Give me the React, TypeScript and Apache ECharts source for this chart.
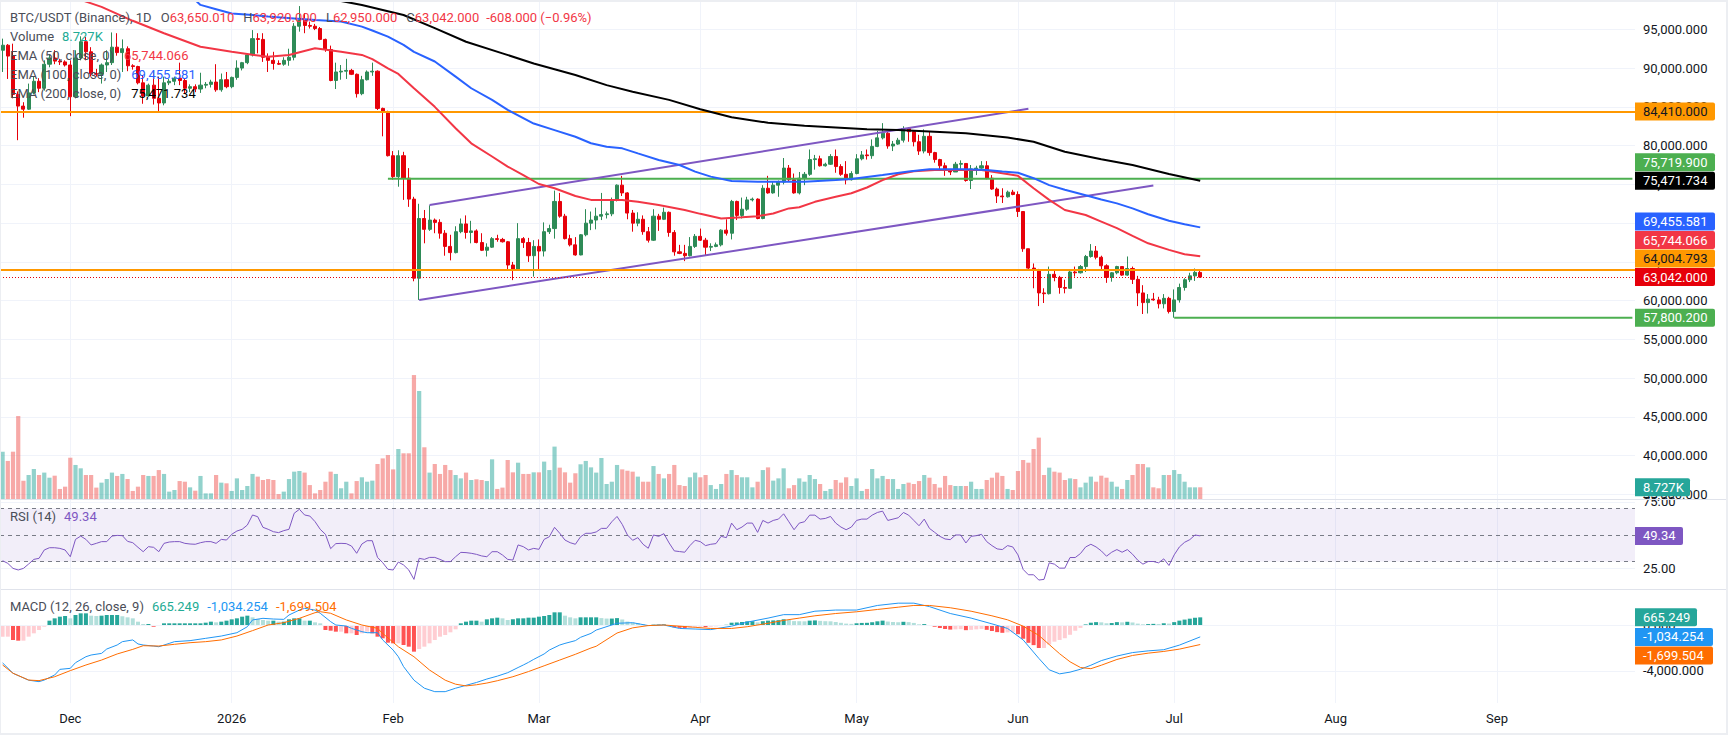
import React, { useEffect, useRef } from 'react';
import * as echarts from 'echarts';

const FONT = 'Roboto, "Noto Sans", sans-serif';
const UP = '#2e8b57';
const DOWN = '#e6000a';
const TEXT = '#131722';
const LEGEND = '#4a4d57';
const GRIDLINE = '#f0f3fa';

const START = Date.UTC(2025, 10, 18);
const DAY_MS = 86400000;
const N_CATS = 314;
const MONTH_ABBR = ['Jan', 'Feb', 'Mar', 'Apr', 'May', 'Jun', 'Jul', 'Aug', 'Sep', 'Oct', 'Nov', 'Dec'];
const dates: string[] = Array.from({ length: N_CATS }, (_, i) => new Date(START + i * DAY_MS).toISOString().slice(0, 10));

// Daily candles [open, high, low, close]
const nov2025 = [
  [92300, 93800, 89500, 92950], [92950, 93100, 88600, 91550], [91550, 93150, 86100, 86600], [86600, 87000, 80700, 85100],
  [85100, 85600, 83600, 84700], [84700, 88000, 84600, 86800], [86800, 88900, 86600, 88300], [88300, 88700, 86900, 87400],
  [87400, 91000, 87100, 90500], [90500, 91700, 90100, 91300], [91300, 92300, 90500, 90900], [90900, 91200, 90400, 90800],
  [90800, 91000, 90200, 90400],
];
const dec2025 = [
  [90400, 91000, 83800, 86300], [86300, 92300, 86100, 91300], [91300, 94100, 91000, 93400], [93400, 94000, 91000, 92100],
  [92100, 92700, 88900, 89300], [89300, 89900, 88900, 89200], [89200, 90600, 88000, 90400], [90400, 92300, 89500, 90700],
  [90700, 94600, 90400, 92700], [92700, 94500, 91600, 92000], [92000, 93700, 89500, 92500], [92500, 92800, 89600, 90300],
  [90300, 90500, 89800, 90200], [90200, 90300, 87900, 88100], [88100, 89100, 85400, 86400], [86400, 88000, 86300, 87800],
  [87800, 89500, 85300, 86100], [86100, 88900, 84400, 85500], [85500, 88900, 85200, 88100], [88100, 88600, 87800, 88300],
  [88300, 88900, 87800, 88700], [88700, 90700, 87800, 88400], [88400, 88700, 86700, 87400], [87400, 87900, 86900, 87600],
  [87600, 87900, 86900, 87300], [87300, 89400, 86800, 87800], [87800, 88200, 87400, 87900], [87900, 88500, 87500, 88200],
  [88200, 90500, 86950, 87200], [87200, 89300, 86950, 88500], [88500, 89500, 87400, 87600],
];
const jan2026 = [
  [87600, 88900, 87400, 88800], [88800, 91000, 88500, 90000], [90000, 90800, 89700, 90700], [90700, 91900, 90500, 91700],
  [91700, 94900, 91500, 93800], [93800, 94500, 91900, 93700], [93700, 94500, 90800, 91400], [91400, 91900, 89500, 91000],
  [91000, 92100, 89800, 90600], [90600, 91000, 90400, 90500], [90500, 91400, 90300, 91000], [91000, 92500, 90300, 91400],
  [91400, 95800, 91000, 95400], [95400, 98000, 94700, 96200], [96200, 97100, 94500, 95500], [95500, 96000, 95100, 95400],
  [95400, 95700, 94900, 95100], [95100, 95300, 93600, 93700], [93700, 93800, 92100, 92400], [92400, 92900, 88300, 88400],
  [88400, 90700, 87300, 89500], [89500, 90400, 88500, 89600], [89600, 91200, 88600, 89700], [89700, 89900, 89100, 89200],
  [89200, 89300, 86200, 86700], [86700, 89000, 86500, 88500], [88500, 89700, 88400, 89500], [89500, 90700, 89000, 89600],
  [89600, 89700, 84600, 84800], [84800, 84900, 81200, 84400], [84400, 84500, 78600, 78700],
];
const feb2026 = [
  [78700, 79300, 75600, 76000], [76000, 79400, 74700, 78700], [78700, 79200, 73000, 75800], [75800, 77100, 72100, 73100],
  [73100, 73400, 62500, 62900], [62900, 72500, 60100, 70600], [70600, 71700, 67400, 69200], [69200, 72300, 69000, 70400],
  [70400, 70600, 68700, 70100], [70100, 70500, 68000, 68700], [68700, 69100, 65800, 67000], [67000, 68500, 65200, 66200],
  [66200, 69600, 66100, 68900], [68900, 70600, 68700, 69900], [69900, 71000, 68000, 68800], [68800, 70300, 67400, 69000],
  [69000, 69200, 67400, 67500], [67500, 68700, 66400, 66500], [66500, 67400, 65700, 66900], [66900, 68200, 66800, 68000],
  [68000, 68500, 67600, 67900], [67900, 68100, 67500, 67600], [67600, 67700, 64000, 64600], [64600, 65000, 62650, 64000],
  [64000, 70000, 63900, 68000], [68000, 68200, 66800, 67500], [67500, 68100, 65000, 65800], [65800, 67800, 63100, 67000],
];
const mar2026 = [
  [67000, 67900, 64000, 66400], [66400, 70100, 65700, 68900], [68900, 69800, 68600, 69300], [69300, 74200, 68000, 72800],
  [72800, 73900, 70700, 70900], [70900, 71200, 67900, 68000], [68000, 68500, 67000, 67200], [67200, 68200, 65800, 65900],
  [65900, 68600, 65850, 68500], [68500, 71800, 68300, 70000], [70000, 71500, 69100, 70400], [70400, 72000, 69200, 70900],
  [70900, 73900, 70400, 71100], [71100, 71500, 70600, 71200], [71200, 73300, 70900, 73000], [73000, 75000, 72800, 74900],
  [74900, 76100, 73500, 73900], [73900, 74000, 70500, 71300], [71300, 71700, 68900, 70000], [70000, 71400, 69600, 70500],
  [70500, 71000, 68500, 68900], [68900, 69500, 67500, 67800], [67800, 71800, 67700, 70900], [70900, 71200, 69000, 70500],
  [70500, 72000, 70400, 71400], [71400, 71500, 68250, 68800], [68800, 69100, 65800, 66300], [66300, 67200, 66000, 66100],
  [66100, 67200, 65100, 65800], [65800, 68200, 65700, 67000], [67000, 68600, 66800, 68300],
];
const apr2026 = [
  [68300, 69300, 67700, 67800], [67800, 68100, 65800, 66900], [66900, 67400, 66400, 67000], [67000, 67500, 66900, 67200],
  [67200, 69200, 67000, 69100], [69100, 70500, 68400, 68700], [68700, 73000, 67900, 72800], [72800, 72900, 70400, 71000],
  [71000, 73300, 70600, 71800], [71800, 73400, 71600, 73000], [73000, 73300, 72800, 73100], [73100, 73200, 70500, 70600],
  [70600, 74900, 70500, 74500], [74500, 76100, 73800, 73900], [73900, 75300, 73800, 74900], [74900, 75500, 73400, 75300],
  [75300, 78400, 75000, 77100], [77100, 77500, 75400, 75600], [75600, 76400, 73800, 73900], [73900, 76600, 73700, 75800],
  [75800, 76600, 74900, 76300], [76300, 79500, 76100, 78200], [78200, 78800, 76900, 78300], [78300, 78700, 77300, 77400],
  [77400, 77800, 77300, 77600], [77600, 78900, 77500, 78600], [78600, 79500, 76500, 77300], [77300, 77600, 76100, 76300],
  [76300, 78000, 75000, 75600], [75600, 76700, 75500, 76400],
];
const may2026 = [
  [76400, 78900, 76300, 78300], [78300, 79300, 78100, 78800], [78800, 79500, 78200, 78700], [78700, 80800, 78300, 79900],
  [79900, 81900, 79800, 81000], [81000, 82900, 80800, 81600], [81600, 81800, 79600, 79950], [79950, 80600, 79300, 80200],
  [80200, 81000, 80100, 80700], [80700, 82500, 80400, 82200], [82200, 82400, 80500, 81800], [81800, 82000, 79900, 80500],
  [80500, 81400, 78800, 79300], [79300, 82100, 79000, 81200], [81200, 81800, 78700, 79100], [79100, 79200, 77800, 78200],
  [78200, 78300, 76900, 77400], [77400, 77800, 76100, 76850], [76850, 77000, 76200, 76600], [76600, 77900, 76600, 77600],
  [77600, 78100, 77000, 77700], [77700, 77700, 75350, 75500], [75500, 77500, 74400, 77000], [77000, 77400, 76200, 77100],
  [77100, 78000, 77000, 77400], [77400, 78000, 75650, 75800], [75800, 76200, 74300, 74400], [74400, 74600, 72600, 73500],
  [73500, 74500, 72600, 73400], [73400, 74200, 73300, 74000], [74000, 74300, 73600, 73700],
];
const jun2026 = [
  [73700, 74100, 70800, 71500], [71500, 71500, 66300, 66700], [66700, 66700, 64000, 64200], [64200, 64800, 61600, 64000],
  [64000, 64100, 59300, 61000], [61000, 61600, 59700, 60900], [60900, 64400, 60800, 63400], [63400, 64000, 62500, 63000],
  [63000, 63200, 60900, 61700], [61700, 62700, 60950, 61600], [61600, 63950, 61550, 63700], [63700, 64400, 63100, 63600],
  [63600, 64600, 63500, 64400], [64400, 65900, 63700, 65700], [65700, 67300, 65550, 66400], [66400, 67050, 65330, 65600],
  [65600, 65800, 64040, 64500], [64500, 64700, 62300, 63000], [63000, 63700, 62450, 63600], [63600, 64500, 63400, 64400],
  [64400, 64400, 63200, 63300], [63300, 65700, 63200, 64150], [64150, 64400, 62150, 62750], [62750, 63200, 59300, 61000],
  [61000, 62000, 58280, 59750], [59750, 60850, 58350, 60200], [60200, 61000, 60000, 60100], [60100, 60500, 59000, 59600],
  [59600, 60850, 59000, 60300], [60300, 60500, 58350, 58600],
];
const jul2026 = [
  [58600, 61450, 57800.2, 60100], [60100, 62200, 59750, 61700], [61700, 62900, 61300, 62700], [62700, 63600, 62400, 63200],
  [63200, 64150, 62550, 63650], [63650.01, 63920, 62950, 63042],
];
const candles = [...nov2025, ...dec2025, ...jan2026, ...feb2026, ...mar2026, ...apr2026, ...may2026, ...jun2026, ...jul2026];

// Volume in thousands of BTC
const volumeK = [
  35.3, 28.4, 35.3, 61.9, 13.7, 17.9, 22.4, 17.9, 19.7, 15.9, 17.4, 7.5, 9.2,
  30.8, 25.4, 22.9, 17.9, 17.9, 8.5, 12.2, 14.9, 19.7, 17.2, 18.7, 14.9, 6.0, 9.2, 17.9, 17.2, 17.2, 21.6, 18.7, 5.5, 6.7, 13.4, 12.9, 8.7, 6.2, 17.2, 4.2, 4.2, 17.9, 12.2, 11.7,
  6.0, 15.4, 6.7, 9.7, 18.7, 16.7, 14.2, 14.9, 14.2, 3.7, 5.5, 14.9, 20.4, 20.9, 19.7, 10.4, 4.2, 6.7, 12.9, 20.4, 18.7, 8.0, 12.9, 4.2, 13.4, 16.2, 12.9, 13.7, 26.1, 30.3, 32.8,
  22.1, 37.3, 34.1, 34.1, 92.5, 80.6, 38.6, 19.7, 26.1, 18.7, 25.4, 21.6, 17.9, 15.4, 19.7, 14.2, 14.7, 14.2, 13.4, 29.6, 7.5, 8.5, 29.1, 19.9, 27.1, 18.7, 18.7, 19.9,
  19.9, 27.9, 21.6, 39.1, 23.4, 19.9, 12.2, 19.2, 25.9, 28.4, 23.6, 19.7, 30.6, 11.2, 12.9, 25.4, 22.1, 21.1, 20.4, 16.7, 12.9, 12.9, 24.6, 18.7, 15.4, 18.7, 25.4, 10.4, 9.7, 16.2, 19.7,
  16.2, 17.9, 10.4, 7.5, 11.2, 18.7, 21.6, 17.9, 16.2, 16.2, 8.7, 12.9, 21.6, 23.6, 13.7, 15.4, 22.9, 8.0, 10.4, 15.4, 12.9, 17.9, 14.9, 11.2, 6.0, 7.5, 14.2, 12.2, 16.2, 9.7,
  15.4, 6.0, 7.5, 22.4, 15.4, 17.2, 14.9, 14.9, 7.5, 11.2, 12.2, 11.2, 13.4, 17.9, 15.9, 11.2, 8.5, 17.2, 10.4, 9.7, 9.7, 9.7, 12.9, 7.5, 7.5, 14.2, 15.9, 19.7, 17.2, 7.5, 6.7,
  20.9, 29.1, 27.1, 37.3, 45.8, 17.9, 23.4, 20.4, 19.7, 14.2, 15.4, 14.9, 8.7, 12.2, 16.7, 12.9, 17.4, 15.9, 12.9, 9.2, 7.5, 14.2, 17.9, 26.1, 26.1, 23.6, 8.7, 8.0, 17.9, 17.9,
  21.6, 18.7, 12.9, 8.7, 8.7, 8.727,
];

const rsi14 = [
  30.6, 28.6, 24.8, 23.6, 24.8, 28.1, 31.6, 32.4, 38.7, 40.4, 40.4, 39.9, 38.7, 33.6, 46.7, 49.2, 46.7, 42.5, 43.7, 45,
  45, 49.2, 49.7, 49.5, 45.2, 44.2, 40.7, 37.4, 41.2, 40.7, 37.4, 43.7, 44.7, 45, 45, 43.7, 43.2, 43, 44.2, 45,
  45, 43.7, 46.7, 46.2, 50.5, 53, 54.3, 57.5, 65.1, 63.8, 55.8, 54.3, 52.5, 51.8, 53.3, 54.3, 66.4, 69.4, 65.1, 64.3,
  60.1, 54.3, 50.5, 39.7, 43.5, 43.7, 43.5, 41.7, 36.2, 43.2, 45.7, 45.7, 33.1, 29.1, 24.1, 23.6, 29.6, 27.4, 23.6, 16.5,
  32.4, 31.6, 33.1, 33.1, 31.6, 29.9, 29.9, 33.6, 36.9, 36.7, 36.2, 35.4, 34.2, 33.6, 37.4, 37.4, 34.9, 31.6, 31.1, 42.5,
  41.2, 38.7, 39.9, 39.2, 46.7, 48.7, 55.8, 51.3, 46.2, 44.2, 43, 48.7, 51.3, 51.3, 52.3,
  55, 55, 60, 64, 58, 50, 46, 48, 43, 40, 50, 49, 51, 44, 38, 37.5, 37, 42, 46,
  45, 42, 43, 43.5, 49, 48, 59, 54, 56, 59, 59, 52, 61, 59, 61, 62, 66, 60, 54, 59, 60, 65, 65, 62, 62.5, 64, 59, 56, 54, 56,
  61, 62, 62, 65, 67, 68, 61, 62, 63, 67, 65, 61, 57, 62, 55, 52, 49, 47, 46.5, 50, 50, 44, 49, 49.5, 50.5, 45, 42, 39.5, 39, 42, 41,
  35, 24, 20, 20, 16, 16.5, 29, 28, 25, 25, 33, 33, 36, 41, 43, 41, 38, 34, 37, 39, 37, 39, 35.5, 31, 28, 30, 30, 29, 32, 27,
  35, 41, 44.5, 46.5, 50, 49.34,
];

const macdHist = [
  -1015, -1015, -1305, -1363, -1363, -1015, -725, -435, -145, 377, 580, 725, 783, 580, 870, 1015, 1015, 812, 783, 812,
  870, 870, 870, 760, 667, 580, 290, 87, 87, -150, -87, 145, 145, 145, 145, 145, 145, 145, 145, 203,
  290, 232, 290, 377, 493, 580, 725, 812, 667, 522, 435, 377, 377, 290, 290, 493, 580, 580, 377, 377,
  232, 145, -435, -493, -580, -580, -725, -725, -870, -725, -580, -725, -1015, -1160, -1537, -1595, -1595, -1740, -1885, -2320,
  -2088, -1885, -1595, -1305, -1015, -870, -638, -377, 145, 290, 377, 377, 290, 493, 580, 638, 580, 435, 493, 580,
  580, 638, 638, 725, 783, 870, 1102, 1102, 812, 667, 580, 667, 667, 667, 667,
  600, 560, 560, 600, 480, 300, 200, 160, 60, -40, 30, 40, 50, -60, -200, -250, -280, -230, -150,
  -150, -180, -150, -120, 0, 20, 200, 220, 260, 320, 330, 230, 330, 380, 400, 420, 500, 440, 340, 330, 320, 380, 400, 360, 330, 320, 260, 190, 120, 100,
  150, 180, 190, 240, 320, 380, 300, 260, 240, 280, 250, 180, 60, 80, -40, -150, -260, -350, -400, -380, -360, -450, -420, -380, -340, -420, -520, -620, -680, -640, -640,
  -800, -1200, -1550, -1750, -2000, -2000, -1700, -1450, -1300, -1150, -850, -500, -250, 50, 200, 250, 230, 150, 170, 250, 230, 280, 220, 120, 60, 80, 100, 90, 150, 120,
  250, 380, 470, 550, 630, 665.249,
];

const macdLinePts = [
  [0, -3300], [2, -4200], [5, -4800], [7, -4930], [8, -4790], [10, -4350], [11, -3860], [13, -3770], [14, -3280], [16, -2760],
  [17, -2610], [19, -2470], [20, -2090], [22, -1740], [23, -1450], [25, -1300], [26, -1650], [27, -1740], [29, -1830], [30, -1890],
  [32, -1600], [33, -1450], [36, -1360], [39, -1160], [42, -960], [45, -670], [47, -150], [48, 440], [50, 580], [52, 520],
  [54, 490], [55, 870], [57, 1300], [58, 1450], [60, 1300], [61, 1020], [63, 290], [64, 0], [66, -90], [67, -290],
  [69, -580], [70, -670], [72, -670], [73, -1300], [75, -2180], [76, -2760], [77, -3620], [79, -4800], [81, -5500], [83, -5800],
  [85, -5800], [87, -5500], [89, -5250], [91, -5000], [93, -4700], [95, -4450], [97, -4150], [99, -3700], [100, -3480], [101, -3250],
  [102, -2990], [104, -2520], [105, -2180], [107, -1740], [108, -1600], [110, -1360], [111, -1070], [113, -730], [114, -440], [118, 150],
  [121, 200], [124, -50], [127, 0], [130, -300], [133, -350], [136, -400], [140, -100], [143, 250], [147, 600], [150, 900],
  [153, 900], [156, 1200], [160, 1300], [164, 1300], [168, 1700], [172, 1900], [175, 1900], [178, 1600], [182, 1000], [186, 600],
  [190, 100], [193, -300], [196, -1300], [199, -2900], [201, -3900], [203, -4250], [205, -4100], [207, -3850], [209, -3500], [211, -3100],
  [214, -2700], [217, -2400], [220, -2250], [223, -2150], [226, -1750], [230, -1034.254],
];
const signalPts = [
  [0, -3480], [2, -4200], [5, -4790], [7, -4840], [10, -4500], [13, -3970], [16, -3480], [19, -3050], [22, -2520], [25, -2120],
  [27, -1800], [30, -1830], [33, -1680], [36, -1540], [39, -1450], [42, -1300], [45, -960], [48, -490], [51, 0], [54, 200],
  [57, 580], [60, 1070], [61, 1160], [63, 1020], [66, 440], [69, 0], [72, -290], [73, -730], [76, -1890], [79, -2760],
  [82, -3920], [85, -4800], [87, -5150], [89, -5300], [91, -5200], [93, -5050], [95, -4850], [98, -4500], [101, -4050], [104, -3550],
  [107, -3050], [110, -2550], [113, -2000], [114, -1850], [118, -700], [121, -250], [124, -50], [127, 0], [130, -100], [133, -200],
  [136, -300], [140, -300], [143, -150], [147, 150], [150, 400], [153, 600], [156, 800], [160, 1000], [164, 1150], [168, 1350],
  [172, 1550], [175, 1700], [178, 1700], [182, 1500], [186, 1200], [190, 800], [193, 450], [196, -100], [199, -900], [201, -1700],
  [203, -2500], [205, -3200], [207, -3700], [209, -3800], [211, -3500], [214, -3000], [217, -2650], [220, -2450], [223, -2300], [226, -2100],
  [230, -1699.504],
];

const ema50Pts = [
  [8, 100900], [15, 98800], [19, 97900], [25, 96100], [31, 94500], [38, 92750], [44, 92100], [51, 91450], [55, 91700], [60, 92550],
  [65, 92100], [69, 91700], [71, 91150], [74, 89950], [76, 89250], [79, 87400], [83, 85000], [87, 82250], [90, 80300], [94, 78600],
  [97, 77300], [100, 76200], [103, 75050], [106, 74500], [110, 73500], [113, 73000], [119, 73000], [122, 72750], [126, 72350], [131, 71700],
  [134, 71200], [138, 70600], [142, 70750], [145, 70900], [148, 71250], [151, 71900], [153, 72050], [156, 72750], [160, 73400], [163, 73850],
  [166, 74600], [169, 75550], [172, 76300], [175, 76700], [179, 76850], [185, 76850], [188, 76850], [192, 76450], [195, 76100], [198, 74500],
  [201, 73000], [204, 71700], [208, 71050], [211, 70200], [214, 69350], [217, 68350], [220, 67400], [224, 66550], [227, 66000], [230, 65744.066],
];
const ema100Pts = [
  [30, 101600], [37, 98780], [38, 98150], [41, 97600], [44, 97050], [48, 96850], [51, 96650], [56, 96400], [60, 96200], [65, 96000],
  [69, 95350], [71, 94850], [74, 94050], [77, 93000], [79, 92100], [83, 90850], [87, 88900], [90, 87400], [94, 85900], [97, 84600],
  [102, 82850], [106, 82000], [110, 81150], [113, 80300], [116, 79850], [119, 79650], [122, 79000], [126, 78150], [130, 77500], [133, 76650],
  [136, 76000], [140, 75450], [145, 75350], [150, 75350], [154, 75350], [160, 75550], [163, 75700], [169, 76200], [174, 76650], [178, 76950],
  [185, 76950], [189, 76850], [192, 76650], [195, 76500], [198, 75800], [201, 74900], [204, 74300], [208, 73600], [211, 73050], [214, 72550],
  [217, 71900], [220, 71150], [224, 70300], [227, 69850], [230, 69455.581],
];
const ema200Pts = [
  [55, 99950], [64, 98780], [69, 98150], [77, 96850], [83, 95150], [89, 93400], [96, 91900], [102, 90600], [106, 89850], [110, 89100],
  [116, 87800], [121, 86950], [128, 85900], [134, 84700], [140, 83650], [147, 82950], [154, 82550], [160, 82350], [166, 82100], [172, 82000],
  [179, 81800], [185, 81600], [193, 81050], [198, 80500], [204, 79200], [211, 78250], [217, 77500], [224, 76350], [230, 75471.734],
];

const channelUpper = [[82, 72350], [197, 84750]];
const channelLower = [[80, 60100], [221, 74850]];
const resistance84410 = 84410;
const level64004 = 64004.793;
const support75719 = { from: 74, value: 75719.9 };
const support57800 = { from: 225, value: 57800.2 };

const fmt3 = (v: number) => v.toLocaleString('en-US', { minimumFractionDigits: 3, maximumFractionDigits: 3 });
const isMonthStart = (_i: number, v: string) => v.slice(8) === '01';

export default function App() {
  const ref = useRef<HTMLDivElement>(null);
  useEffect(() => {
    if (!ref.current) return;
    const chart = echarts.init(ref.current, undefined, { renderer: 'svg' });
    const last = candles[candles.length - 1];
    const prevClose = candles[candles.length - 2][3];
    const lastClose = last[3];
    const GR = 93;
    const xAxisFor = (gridIndex: number, labels: boolean) => ({
      type: 'category', gridIndex, data: dates, boundaryGap: true,
      axisLine: { show: false }, axisTick: { show: false },
      axisLabel: labels ? {
        interval: isMonthStart, color: TEXT, fontSize: 13, fontFamily: FONT, margin: 9,
        formatter: (v: string) => (v.slice(5, 7) === '01' ? v.slice(0, 4) : MONTH_ABBR[Number(v.slice(5, 7)) - 1]),
      } : { show: false },
      splitLine: { show: true, interval: isMonthStart, alignWithLabel: true, lineStyle: { color: GRIDLINE, width: 1 } },
    });
    const hidden = { axisLine: { show: false }, axisTick: { show: false }, axisLabel: { show: false }, splitLine: { show: false } };
    const mlLabel = (text: string) => ({ show: true, position: 'end', distance: 8, formatter: text, color: TEXT, fontSize: 13, fontFamily: FONT });

    const histColors = macdHist.map((v, i) => {
      const p = i > 0 ? macdHist[i - 1] : v;
      if (v >= 0) return v >= p ? '#26a69a' : '#b2dfdb';
      return v < p ? '#ff5252' : '#ffcdd2';
    });

    const option: any = {
      animation: false,
      grid: [
        { left: 0, right: GR, top: 0, height: 494.5 },
        { left: 0, right: GR, top: 299, height: 200 },
        { left: 0, right: GR, top: 500, height: 89 },
        { left: 0, right: GR, top: 589, height: 114 },
      ],
      xAxis: [xAxisFor(0, false), xAxisFor(1, false), xAxisFor(2, false), xAxisFor(3, true)],
      yAxis: [
        {
          type: 'value', gridIndex: 0, position: 'right', min: 35000, max: 98783, interval: 5000,
          axisLine: { show: false }, axisTick: { show: false },
          axisLabel: { color: TEXT, fontSize: 13, fontFamily: FONT, margin: 8, showMaxLabel: false, formatter: (v: number) => fmt3(v) },
          splitLine: { lineStyle: { color: GRIDLINE } },
        },
        { type: 'value', gridIndex: 1, min: 0, max: 149.25, ...hidden },
        { type: 'value', gridIndex: 2, min: 9.245, max: 76.42, ...hidden },
        { type: 'value', gridIndex: 3, min: -6786, max: 3132, ...hidden },
      ],
      series: [
        {
          type: 'bar', name: 'Volume', xAxisIndex: 1, yAxisIndex: 1, barWidth: 4.2, z: 1,
          data: volumeK.map((v, i) => ({
            value: v,
            itemStyle: { color: candles[i][3] >= candles[i][0] ? 'rgba(38,166,154,0.5)' : 'rgba(239,83,80,0.5)' },
          })),
        },
        {
          type: 'candlestick', name: 'BTC/USDT', xAxisIndex: 0, yAxisIndex: 0, barWidth: 3.6, z: 3,
          data: candles.map(([o, h, l, c]) => [o, c, l, h]),
          itemStyle: { color: UP, color0: DOWN, borderColor: UP, borderColor0: DOWN, borderWidth: 1 },
          markLine: {
            silent: true, symbol: 'none', label: { show: false },
            data: [
              { yAxis: resistance84410, lineStyle: { color: '#ff9800', width: 2, type: 'solid' } },
              { yAxis: level64004, lineStyle: { color: '#ff9800', width: 2, type: 'solid' } },
              { yAxis: lastClose, lineStyle: { color: DOWN, width: 1, type: [1, 2] } },
            ],
          },
        },
        {
          type: 'line', name: 'S1', xAxisIndex: 0, yAxisIndex: 0, showSymbol: false, z: 4,
          data: [[support75719.from, support75719.value], [N_CATS - 1, support75719.value]],
          lineStyle: { color: '#4caf50', width: 2 },
        },
        {
          type: 'line', name: 'S2', xAxisIndex: 0, yAxisIndex: 0, showSymbol: false, z: 4,
          data: [[support57800.from, support57800.value], [N_CATS - 1, support57800.value]],
          lineStyle: { color: '#4caf50', width: 2 },
        },
        { type: 'line', name: 'ChU', xAxisIndex: 0, yAxisIndex: 0, showSymbol: false, z: 4, data: channelUpper, lineStyle: { color: '#7e57c2', width: 2 } },
        { type: 'line', name: 'ChL', xAxisIndex: 0, yAxisIndex: 0, showSymbol: false, z: 4, data: channelLower, lineStyle: { color: '#7e57c2', width: 2 } },
        { type: 'line', name: 'EMA50', xAxisIndex: 0, yAxisIndex: 0, showSymbol: false, z: 5, data: ema50Pts, lineStyle: { color: '#f23645', width: 2 } },
        { type: 'line', name: 'EMA100', xAxisIndex: 0, yAxisIndex: 0, showSymbol: false, z: 5, data: ema100Pts, lineStyle: { color: '#2962ff', width: 2 } },
        { type: 'line', name: 'EMA200', xAxisIndex: 0, yAxisIndex: 0, showSymbol: false, z: 5, data: ema200Pts, lineStyle: { color: '#000000', width: 2 } },
        {
          type: 'line', name: 'RSI', xAxisIndex: 2, yAxisIndex: 2, showSymbol: false, z: 5, data: rsi14,
          lineStyle: { color: '#7e57c2', width: 1 },
          markArea: { silent: true, itemStyle: { color: 'rgba(126,87,194,0.1)' }, data: [[{ yAxis: 30 }, { yAxis: 70 }]] },
          markLine: {
            silent: true, symbol: 'none',
            data: [
              { yAxis: 75, lineStyle: { color: GRIDLINE, type: 'solid', width: 1 }, label: mlLabel('75.00') },
              { yAxis: 25, lineStyle: { color: GRIDLINE, type: 'solid', width: 1 }, label: mlLabel('25.00') },
              { yAxis: 70, lineStyle: { color: '#787b86', type: [4, 4], width: 1 }, label: { show: false } },
              { yAxis: 50, lineStyle: { color: '#787b86', type: [4, 4], width: 1 }, label: { show: false } },
              { yAxis: 30, lineStyle: { color: '#787b86', type: [4, 4], width: 1 }, label: { show: false } },
            ],
          },
        },
        {
          type: 'bar', name: 'Histogram', xAxisIndex: 3, yAxisIndex: 3, barWidth: 4, z: 2,
          data: macdHist.map((v, i) => ({ value: v, itemStyle: { color: histColors[i] } })),
          markLine: {
            silent: true, symbol: 'none',
            data: [
              { yAxis: 0, lineStyle: { color: GRIDLINE, type: 'solid', width: 1 }, label: mlLabel('0.000') },
              { yAxis: -4000, lineStyle: { color: GRIDLINE, type: 'solid', width: 1 }, label: mlLabel('-4,000.000') },
            ],
          },
        },
        { type: 'line', name: 'MACD', xAxisIndex: 3, yAxisIndex: 3, showSymbol: false, z: 5, data: macdLinePts, lineStyle: { color: '#2196f3', width: 1 } },
        { type: 'line', name: 'Signal', xAxisIndex: 3, yAxisIndex: 3, showSymbol: false, z: 5, data: signalPts, lineStyle: { color: '#ff6d00', width: 1 } },
      ],
    };
    chart.setOption(option);

    const TAG_H = 18;
    const STEP = 18.5;
    const priceTags = [
      { v: resistance84410, bg: '#ff9800', fg: '#131722' },
      { v: support75719.value, bg: '#4caf50', fg: '#ffffff' },
      { v: ema200Pts[ema200Pts.length - 1][1], bg: '#000000', fg: '#ffffff' },
      { v: ema100Pts[ema100Pts.length - 1][1], bg: '#2962ff', fg: '#ffffff' },
      { v: ema50Pts[ema50Pts.length - 1][1], bg: '#f23645', fg: '#ffffff' },
      { v: level64004, bg: '#ff9800', fg: '#131722' },
      { v: lastClose, bg: DOWN, fg: '#ffffff' },
      { v: support57800.value, bg: '#4caf50', fg: '#ffffff' },
    ].map((t) => ({ ...t, y: chart.convertToPixel({ yAxisIndex: 0 }, t.v) as number }));
    priceTags.sort((a, b) => b.y - a.y);
    for (let i = 1; i < priceTags.length; i++) {
      if (priceTags[i].y > priceTags[i - 1].y - STEP) priceTags[i].y = priceTags[i - 1].y - STEP;
    }
    const macdTags = [
      { v: macdHist[macdHist.length - 1], bg: '#26a69a', w: 62 },
      { v: macdLinePts[macdLinePts.length - 1][1], bg: '#2196f3', w: 78 },
      { v: signalPts[signalPts.length - 1][1], bg: '#ff6d00', w: 78 },
    ].map((t) => ({ ...t, y: chart.convertToPixel({ yAxisIndex: 3 }, t.v) as number }));
    macdTags.sort((a, b) => a.y - b.y);
    for (let i = 1; i < macdTags.length; i++) {
      if (macdTags[i].y < macdTags[i - 1].y + STEP) macdTags[i].y = macdTags[i - 1].y + STEP;
    }

    const tag = (y: number, w: number, bg: string, fg: string, text: string) => [
      { type: 'rect', z: 100, shape: { x: 1635, y: y - TAG_H / 2, width: w, height: TAG_H, r: [0, 2, 2, 0] }, style: { fill: bg } },
      { type: 'text', z: 101, x: 1643, y, style: { text, fill: fg, font: `13px ${FONT}`, verticalAlign: 'middle' } },
    ];
    const volY = chart.convertToPixel({ yAxisIndex: 1 }, volumeK[volumeK.length - 1]) as number;
    const rsiLast = rsi14[rsi14.length - 1];
    const rsiY = chart.convertToPixel({ yAxisIndex: 2 }, rsiLast) as number;

    const f = `13px ${FONT}`;
    const rich = {
      t: { fill: LEGEND, font: f },
      k: { fill: LEGEND, font: f, padding: [0, 0, 0, 9] },
      r: { fill: '#f23645', font: f },
      p: { fill: '#f23645', font: f, padding: [0, 0, 0, 7] },
      vol: { fill: '#22ab94', font: f, padding: [0, 0, 0, 8] },
      e50: { fill: '#f23645', font: f, padding: [0, 0, 0, 10] },
      e100: { fill: '#2962ff', font: f, padding: [0, 0, 0, 10] },
      e200: { fill: '#000000', font: f, padding: [0, 0, 0, 10] },
      rsi: { fill: '#7e57c2', font: f, padding: [0, 0, 0, 8] },
      mh: { fill: '#22ab94', font: f, padding: [0, 0, 0, 8] },
      mm: { fill: '#2196f3', font: f, padding: [0, 0, 0, 8] },
      ms: { fill: '#ff6d00', font: f, padding: [0, 0, 0, 8] },
    };
    const legend = (y: number, text: string) => ({ type: 'text', z: 100, x: 10, y, style: { text, rich, font: f, verticalAlign: 'middle' } });
    const change = lastClose - prevClose;
    const changePct = (change / prevClose) * 100;
    const e50 = ema50Pts[ema50Pts.length - 1][1];
    const e100 = ema100Pts[ema100Pts.length - 1][1];
    const e200 = ema200Pts[ema200Pts.length - 1][1];

    const elements: any[] = [
      legend(17.3, `{t|BTC/USDT (Binance), 1D}{k|O}{r|${fmt3(last[0])}}{k|H}{r|${fmt3(last[1])}}{k|L}{r|${fmt3(last[2])}}{k|C}{r|${fmt3(lastClose)}}{p|${fmt3(change)} (${changePct.toFixed(2).replace('-', '−')}%)}`),
      legend(36.6, `{t|Volume}{vol|${volumeK[volumeK.length - 1].toFixed(3)}K}`),
      legend(55.7, `{t|EMA (50, close, 0)}{e50|${fmt3(e50)}}`),
      legend(74.5, `{t|EMA (100, close, 0)}{e100|${fmt3(e100)}}`),
      legend(93.3, `{t|EMA (200, close, 0)}{e200|${fmt3(e200)}}`),
      legend(516.7, `{t|RSI (14)}{rsi|${rsiLast.toFixed(2)}}`),
      legend(606.7, `{t|MACD (12, 26, close, 9)}{mh|${fmt3(macdHist[macdHist.length - 1])}}{mm|${fmt3(macdLinePts[macdLinePts.length - 1][1])}}{ms|${fmt3(signalPts[signalPts.length - 1][1])}}`),
      ...priceTags.flatMap((t) => tag(t.y, 80, t.bg, t.fg, fmt3(t.v))),
      ...tag(volY, 55, '#26a69a', '#ffffff', `${volumeK[volumeK.length - 1].toFixed(3)}K`),
      ...tag(rsiY, 48, '#7e57c2', '#ffffff', rsiLast.toFixed(2)),
      ...macdTags.flatMap((t) => tag(t.y, t.w, t.bg, '#ffffff', fmt3(t.v))),
      { type: 'line', z: 90, shape: { x1: 0, y1: 499.5, x2: 1728, y2: 499.5 }, style: { stroke: '#e0e3eb', lineWidth: 1 } },
      { type: 'line', z: 90, shape: { x1: 0, y1: 589.5, x2: 1728, y2: 589.5 }, style: { stroke: '#e0e3eb', lineWidth: 1 } },
      { type: 'rect', z: 120, shape: { x: 0, y: 0, width: 1728, height: 2 }, style: { fill: '#eceef2' } },
      { type: 'rect', z: 120, shape: { x: 0, y: 733, width: 1728, height: 2 }, style: { fill: '#eceef2' } },
      { type: 'rect', z: 120, shape: { x: 0, y: 0, width: 1, height: 735 }, style: { fill: '#eceef2' } },
      { type: 'rect', z: 120, shape: { x: 1726, y: 0, width: 2, height: 735 }, style: { fill: '#eceef2' } },
    ];
    chart.setOption({ graphic: { elements } });
    return () => chart.dispose();
  }, []);
  return <div ref={ref} style={{ position: 'fixed', left: 0, top: 0, width: 1728, height: 735, background: '#ffffff' }} />;
}
